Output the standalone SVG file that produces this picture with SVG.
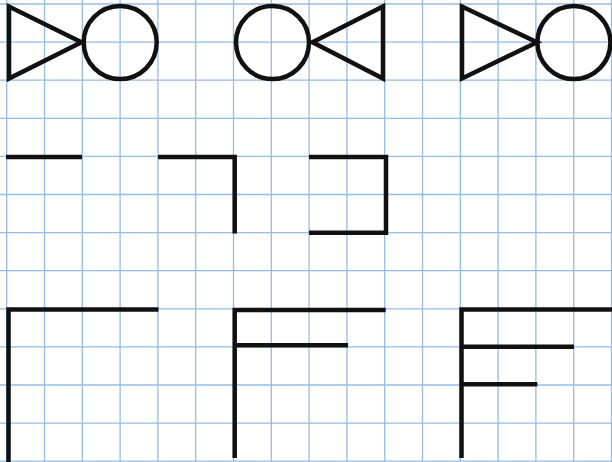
<svg xmlns="http://www.w3.org/2000/svg" width="612" height="462" viewBox="0 0 612 462">
<style>
.grid line{stroke:#94bde3;stroke-width:1.3}
.s{fill:none;stroke:#111;stroke-width:4.5;stroke-linejoin:miter;stroke-linecap:butt}
</style>
<rect width="612" height="462" fill="#fff"/>
<g class="grid" id="grid">
<line x1="6.7" y1="0" x2="6.7" y2="462"/>
<line x1="44.5" y1="0" x2="44.5" y2="462"/>
<line x1="82.3" y1="0" x2="82.3" y2="462"/>
<line x1="120.1" y1="0" x2="120.1" y2="462"/>
<line x1="157.9" y1="0" x2="157.9" y2="462"/>
<line x1="195.7" y1="0" x2="195.7" y2="462"/>
<line x1="233.5" y1="0" x2="233.5" y2="462"/>
<line x1="271.3" y1="0" x2="271.3" y2="462"/>
<line x1="309.1" y1="0" x2="309.1" y2="462"/>
<line x1="346.9" y1="0" x2="346.9" y2="462"/>
<line x1="384.7" y1="0" x2="384.7" y2="462"/>
<line x1="422.5" y1="0" x2="422.5" y2="462"/>
<line x1="460.3" y1="0" x2="460.3" y2="462"/>
<line x1="498.1" y1="0" x2="498.1" y2="462"/>
<line x1="535.9" y1="0" x2="535.9" y2="462"/>
<line x1="573.7" y1="0" x2="573.7" y2="462"/>
<line x1="611.5" y1="0" x2="611.5" y2="462"/>
<line x1="0" y1="4" x2="612" y2="4"/>
<line x1="0" y1="42.1" x2="612" y2="42.1"/>
<line x1="0" y1="80.2" x2="612" y2="80.2"/>
<line x1="0" y1="118.3" x2="612" y2="118.3"/>
<line x1="0" y1="156.4" x2="612" y2="156.4"/>
<line x1="0" y1="194.5" x2="612" y2="194.5"/>
<line x1="0" y1="232.6" x2="612" y2="232.6"/>
<line x1="0" y1="270.7" x2="612" y2="270.7"/>
<line x1="0" y1="308.8" x2="612" y2="308.8"/>
<line x1="0" y1="346.9" x2="612" y2="346.9"/>
<line x1="0" y1="385" x2="612" y2="385"/>
<line x1="0" y1="423.1" x2="612" y2="423.1"/>
<line x1="0" y1="461.2" x2="612" y2="461.2"/>
</g>
<g id="row1-a">
<polygon class="s" points="9,6.5 9,78.5 81.5,42.3"/>
<circle class="s" cx="120.2" cy="42.5" r="36.5"/>
</g>
<g id="row1-b">
<circle class="s" cx="272.5" cy="42.5" r="36.5"/>
<polygon class="s" points="312.5,42.3 383,6.5 383,78.5"/>
</g>
<g id="row1-c">
<polygon class="s" points="462,6.5 462,78.5 537,42.3"/>
<circle class="s" cx="573.9" cy="42.5" r="36.5"/>
</g>
<g id="row2-a">
<polyline class="s" points="6,157 82,157"/>
</g>
<g id="row2-b">
<polyline class="s" points="158,157 234.7,157 234.7,233.5"/>
</g>
<g id="row2-c">
<polyline class="s" points="309,157 386,157 386,232.7 309,232.7"/>
</g>
<g id="row3-a">
<polyline class="s" points="8.5,462 8.5,309.5 158.5,309.5"/>
</g>
<g id="row3-b">
<polyline class="s" points="234.7,458 234.7,310 385.7,310"/>
<line class="s" x1="234.7" y1="345.3" x2="348" y2="345.3"/>
</g>
<g id="row3-c">
<polyline class="s" points="461.5,458 461.5,309.5 612,309.5"/>
<line class="s" x1="461.5" y1="346.7" x2="574" y2="346.7"/>
<line class="s" x1="461.5" y1="384.2" x2="537.3" y2="384.2"/>
</g>
</svg>
